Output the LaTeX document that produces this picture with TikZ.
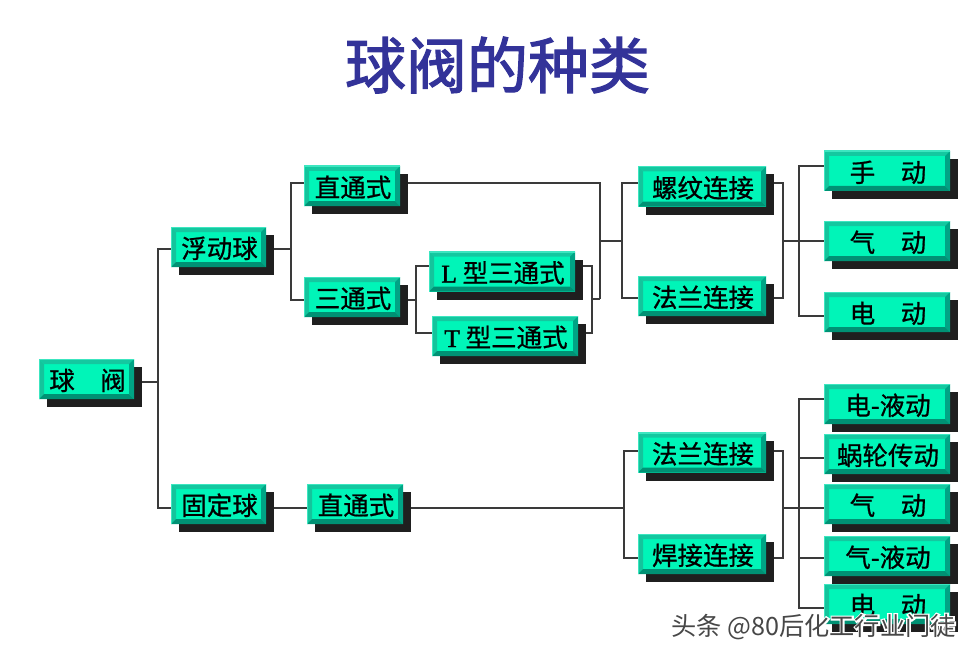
\documentclass[tikz,border=0pt]{standalone}
\usepackage{fontspec}
\setmainfont{Noto Sans CJK SC}
\newfontfamily\latinface[FakeBold=1.5]{Liberation Serif}
\newfontfamily\boxface[FakeBold=0.8]{Noto Sans CJK SC}
\newfontfamily\titleface[FakeBold=2]{Noto Sans CJK SC}
\newfontfamily\rimface[FakeBold=12]{Noto Sans CJK SC}
\usetikzlibrary{shadows, backgrounds}

\definecolor{boxface}{HTML}{00F5B8}
\definecolor{boxtop}{HTML}{14C8A0}
\definecolor{boxleft}{HTML}{14C49C}
\definecolor{boxright}{HTML}{00A485}
\definecolor{boxbottom}{HTML}{009174}
\definecolor{boxedge}{HTML}{3CE6C0}
\definecolor{titleblue}{HTML}{333399}
\definecolor{linkgray}{HTML}{3A3A3A}

\newcommand{\bevelsides}{
   \coordinate (bnw) at (path picture bounding box.north west);
   \coordinate (bne) at (path picture bounding box.north east);
   \coordinate (bse) at (path picture bounding box.south east);
   \coordinate (bsw) at (path picture bounding box.south west);
   \fill[boxtop]    (bnw) -- (bne) -- ([shift={(-5pt,-5pt)}]bne) -- ([shift={(5pt,-5pt)}]bnw) -- cycle;
   \fill[boxleft]   (bnw) -- (bsw) -- ([shift={(5pt,5pt)}]bsw) -- ([shift={(5pt,-5pt)}]bnw) -- cycle;
   \fill[boxright]  (bne) -- (bse) -- ([shift={(-5pt,5pt)}]bse) -- ([shift={(-5pt,-5pt)}]bne) -- cycle;
   \fill[boxbottom] (bsw) -- (bse) -- ([shift={(-5pt,5pt)}]bse) -- ([shift={(5pt,5pt)}]bsw) -- cycle;
   \draw[boxedge, line width=2pt] (bsw) -- (bnw) -- (bne);
}

\tikzset{
   boxnode/.style={rectangle, fill=boxface, inner sep=0pt, minimum height=40pt,
      minimum width=#1, font=\boxface\fontsize{25.5}{25.5}\selectfont, text=black,
      text height=22pt, text depth=0pt,
      execute at begin node={\hspace*{2pt}},
      path picture={\bevelsides},
      drop shadow={shadow xshift=8pt, shadow yshift=-8pt, fill=black!88, opacity=1}},
   boxnode/.default=96pt,
   link/.style={draw=linkgray, line width=1.7pt},
}

\begin{document}
\begin{tikzpicture}[x=1pt, y=-1pt]
   \useasboundingbox (0,0) rectangle (975,658);

   \node[text=titleblue, font=\titleface\fontsize{61}{61}\selectfont] (title) at (497.5,65) {球阀的种类};

   \node[boxnode=95pt] (qf) at (86.5,379) {球　阀};
   \node[boxnode=95pt] (fd) at (218.5,247) {浮动球};
   \node[boxnode=95pt] (gd) at (218.5,504) {固定球};
   \node[boxnode] (zt1) at (352,186) {直通式};
   \node[boxnode] (st) at (352,297) {三通式};
   \node[boxnode] (zt2) at (355,504) {直通式};
   \node[boxnode=146pt] (lx) at (502,271.5) {{\latinface L} 型三通式};
   \node[boxnode=146pt] (tx) at (505,336) {{\latinface T} 型三通式};

   \node[boxnode=128pt] (lw) at (702,186.5) {螺纹连接};
   \node[boxnode=128pt] (fl1) at (702,296) {法兰连接};
   \node[boxnode=128pt] (fl2) at (702,452.5) {法兰连接};
   \node[boxnode=128pt] (hj) at (702,554) {焊接连接};

   \node[boxnode=126pt] (sd) at (887,171) {手　动};
   \node[boxnode=126pt] (qd1) at (887,241) {气　动};
   \node[boxnode=126pt] (dd1) at (887,312) {电　动};
   \node[boxnode=126pt] (dy) at (887,404) {电-液动};
   \node[boxnode=126pt] (wl) at (887,454) {蜗轮传动};
   \node[boxnode=126pt] (qd2) at (887,504) {气　动};
   \node[boxnode=126pt] (qy) at (887,556) {气-液动};
   \node[boxnode=126pt] (dd2) at (887,604) {电　动};

   % bus corners
   \coordinate (a0) at (158,382);
   \coordinate (a1) at (158,249);
   \coordinate (a2) at (158,508);
   \coordinate (b1) at (291,183);
   \coordinate (b2) at (291,300);
   \coordinate (b0) at (291,249);
   \coordinate (c1) at (416,266);
   \coordinate (c2) at (416,333);
   \coordinate (c0) at (416,300);
   \coordinate (d1) at (592,266);
   \coordinate (d2) at (592,333);
   \coordinate (d0) at (592,299);
   \coordinate (e1) at (600,183);
   \coordinate (e2) at (600,299);
   \coordinate (e0) at (600,241);
   \coordinate (f1) at (622,183);
   \coordinate (f2) at (622,298);
   \coordinate (f0) at (622,241);
   \coordinate (g1) at (783,183);
   \coordinate (g2) at (783,298);
   \coordinate (g0) at (783,241);
   \coordinate (h1) at (799,166);
   \coordinate (h3) at (799,316);
   \coordinate (i0) at (624,508);
   \coordinate (i1) at (624,451);
   \coordinate (i2) at (624,558);
   \coordinate (j0) at (783,508);
   \coordinate (j1) at (783,451);
   \coordinate (j2) at (783,558);
   \coordinate (k1) at (799,399);
   \coordinate (k2) at (799,458);
   \coordinate (k4) at (799,558);
   \coordinate (k5) at (799,608);

   \begin{pgfonlayer}{background}
      \draw[link] (qf.east |- a0) -- (a0);
      \draw[link] (fd.west |- a1) -- (a1) -- (a2) -- (gd.west |- a2);
      \draw[link] (fd.east |- b0) -- (b0);
      \draw[link] (zt1.west |- b1) -- (b1) -- (b2) -- (st.west |- b2);
      \draw[link] (gd.east |- a2) -- (zt2.west |- a2);
      \draw[link] (st.east |- c0) -- (c0);
      \draw[link] (lx.west |- c1) -- (c1) -- (c2) -- (tx.west |- c2);
      \draw[link] (lx.east |- d1) -- (d1) -- (d2) -- (tx.east |- d2);
      \draw[link] (d0) -- (e2);
      \draw[link] (zt1.east |- e1) -- (e1) -- (e2);
      \draw[link] (e0) -- (f0);
      \draw[link] (lw.west |- f1) -- (f1) -- (f2) -- (fl1.west |- f2);
      \draw[link] (lw.east |- g1) -- (g1) -- (g2) -- (fl1.east |- g2);
      \draw[link] (g0) -- (qd1.west |- g0);
      \draw[link] (sd.west |- h1) -- (h1) -- (h3) -- (dd1.west |- h3);
      \draw[link] (zt2.east |- i0) -- (i0);
      \draw[link] (fl2.west |- i1) -- (i1) -- (i2) -- (hj.west |- i2);
      \draw[link] (fl2.east |- j1) -- (j1) -- (j2) -- (hj.east |- j2);
      \draw[link] (j0) -- (qd2.west |- j0);
      \draw[link] (dy.west |- k1) -- (k1) -- (k5) -- (dd2.west |- k5);
      \draw[link] (k2) -- (wl.west |- k2);
      \draw[link] (k4) -- (qy.west |- k4);
   \end{pgfonlayer}

   % white rim under the mark
   \node[text=white, font=\rimface\fontsize{25.2}{25.2}\selectfont] (rim) at (813.5,627) {头条 @80后化工行业门徒};
   \node[text=black!72, font=\fontsize{25.2}{25.2}\selectfont] (mark) at (813.5,627) {头条 @80后化工行业门徒};
\end{tikzpicture}
\end{document}
